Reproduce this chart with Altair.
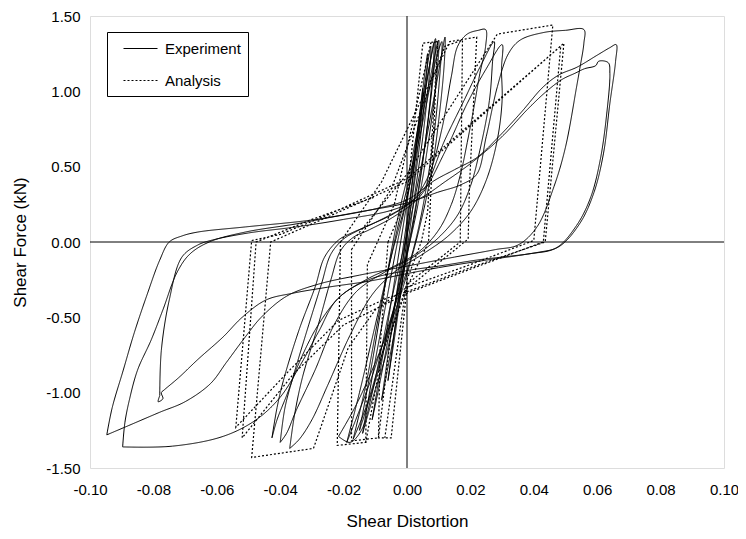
import altair as alt
import pandas as pd

# ---------------- data ----------------
x_ticks = [-0.10, -0.08, -0.06, -0.04, -0.02, 0.00, 0.02, 0.04, 0.06, 0.08, 0.10]
y_ticks = [-1.50, -1.00, -0.50, 0.00, 0.50, 1.00, 1.50]
series_names = ["Experiment", "Analysis"]

# Experiment (solid) loops: (shear distortion, shear force)
exp_loop_1 = [(-0.006,-0.92),(-0.004,-0.6),(-0.002,-0.25),(0.0,0.1),(0.002,0.45),(0.0035,0.75),(0.005,1.02),
              (0.0045,0.85),(0.003,0.55),(0.001,0.2),(-0.001,-0.15),(-0.003,-0.5),(-0.0055,-0.85),(-0.006,-0.92)]
exp_loop_2 = [(-0.011,-1.18),(-0.008,-0.8),(-0.005,-0.4),(-0.002,0.0),(0.001,0.4),(0.004,0.85),(0.0065,1.25),
              (0.006,1.05),(0.004,0.65),(0.001,0.2),(-0.002,-0.2),(-0.006,-0.65),(-0.009,-0.98),(-0.011,-1.18)]
exp_loop_3 = [(-0.014,-1.27),(-0.011,-0.9),(-0.007,-0.45),(-0.003,0.0),(0.001,0.4),(0.005,0.9),(0.0085,1.32),
              (0.008,1.1),(0.006,0.7),(0.003,0.25),(-0.001,-0.2),(-0.006,-0.7),(-0.011,-1.05),(-0.014,-1.27)]
exp_loop_4 = [(-0.017,-1.31),(-0.013,-0.95),(-0.009,-0.5),(-0.004,0.0),(0.001,0.45),(0.006,0.95),(0.010,1.34),
              (0.0095,1.12),(0.007,0.7),(0.003,0.2),(-0.002,-0.25),(-0.008,-0.75),(-0.013,-1.1),(-0.017,-1.31)]
exp_loop_5 = [(-0.0216,-1.29),(-0.018,-1.33),(-0.0144,-1.25),(-0.0113,-1.03),(-0.008,-0.7),(-0.004,-0.3),(0.0,0.05),
              (0.004,0.45),(0.008,0.9),(0.011,1.25),(0.012,1.36),(0.0118,1.2),(0.0105,0.9),(0.008,0.5),(0.004,0.1),
              (-0.002,-0.35),(-0.009,-0.75),(-0.016,-1.08),(-0.0216,-1.29)]
exp_loop_6 = [(-0.019,-1.33),(-0.015,-1.0),(-0.010,-0.55),(-0.005,-0.1),(0.0,0.3),(0.005,0.8),(0.009,1.2),(0.011,1.33),
              (0.0105,1.15),(0.009,0.8),(0.006,0.35),(0.002,-0.05),(-0.005,-0.5),(-0.012,-0.95),(-0.019,-1.33)]
exp_loop_7 = [(-0.0426,-1.30),(-0.041,-1.1),(-0.039,-0.92),(-0.034,-0.58),(-0.029,-0.3),(-0.026,-0.1),(-0.0216,0.013),
              (-0.0185,0.05),(-0.012,0.11),(-0.004,0.19),(0.002,0.28),(0.007,0.45),(0.011,0.75),(0.014,1.1),(0.016,1.3),
              (0.019,1.38),(0.0225,1.405),(0.0248,1.41),(0.0248,1.3),(0.023,1.12),(0.021,0.88),(0.019,0.66),
              (0.017,0.46),(0.014,0.25),(0.010,0.08),(0.004,-0.06),(-0.004,-0.16),(-0.012,-0.24),(-0.021,-0.36),
              (-0.028,-0.55),(-0.034,-0.8),(-0.038,-1.02),(-0.041,-1.18),(-0.0426,-1.30)]
exp_loop_8 = [(-0.040,-1.33),(-0.0385,-1.1),(-0.036,-0.9),(-0.031,-0.55),(-0.027,-0.28),(-0.024,-0.08),(-0.020,0.02),
              (-0.016,0.07),(-0.009,0.14),(-0.002,0.22),(0.005,0.34),(0.012,0.68),(0.018,0.94),(0.023,1.16),(0.0275,1.33),
              (0.027,1.2),(0.026,0.94),(0.023,0.61),(0.020,0.37),(0.016,0.18),(0.010,0.03),(0.002,-0.1),(-0.007,-0.2),
              (-0.016,-0.33),(-0.023,-0.55),(-0.029,-0.85),(-0.035,-1.12),(-0.038,-1.27),(-0.040,-1.33)]
exp_loop_9 = [(-0.037,-1.37),(-0.0355,-1.15),(-0.033,-0.9),(-0.028,-0.55),(-0.024,-0.25),(-0.021,-0.06),(-0.017,0.03),
              (-0.012,0.08),(-0.004,0.17),(0.004,0.3),(0.012,0.6),(0.019,0.92),(0.025,1.15),(0.030,1.31),(0.0298,1.15),
              (0.030,0.94),(0.0285,0.68),(0.025,0.41),(0.020,0.2),(0.013,0.04),(0.005,-0.08),(-0.004,-0.2),
              (-0.011,-0.35),(-0.018,-0.62),(-0.025,-0.95),(-0.030,-1.18),(-0.034,-1.31),(-0.037,-1.37)]
exp_loop_10 = [(-0.0947,-1.28),(-0.093,-1.1),(-0.0895,-0.85),(-0.086,-0.6),(-0.082,-0.35),(-0.078,-0.12),(-0.075,0.0),
               (-0.071,0.04),(-0.066,0.066),(-0.051,0.10),(-0.030,0.146),(-0.015,0.2),(0.0,0.26),(0.0097,0.33),
               (0.017,0.38),(0.022,0.45),(0.025,0.7),(0.0285,1.03),(0.032,1.25),(0.0357,1.34),(0.043,1.39),
               (0.050,1.405),(0.0558,1.41),(0.0558,1.32),(0.0545,1.15),(0.0535,1.03),(0.050,0.63),(0.0464,0.37),
               (0.041,0.10),(0.035,-0.02),(0.028,-0.05),(0.015,-0.1),(0.0,-0.16),(-0.015,-0.22),(-0.028,-0.28),
               (-0.038,-0.36),(-0.046,-0.5),(-0.051,-0.63),(-0.057,-0.8),(-0.062,-0.94),(-0.070,-1.06),
               (-0.078,-1.13),(-0.088,-1.22),(-0.0947,-1.28)]
exp_loop_11 = [(-0.0897,-1.36),(-0.089,-1.2),(-0.0876,-1.05),(-0.085,-0.85),(-0.0807,-0.65),(-0.077,-0.45),
               (-0.0725,-0.2),(-0.0685,-0.08),(-0.0624,0.0),(-0.051,0.066),(-0.035,0.12),(-0.025,0.16),(-0.010,0.22),
               (0.0,0.28),(0.0088,0.41),(0.015,0.48),(0.022,0.56),(0.029,0.7),(0.036,0.86),(0.043,1.03),(0.048,1.11),
               (0.0536,1.16),(0.060,1.24),(0.064,1.29),(0.066,1.31),(0.0658,1.2),(0.064,0.92),(0.062,0.59),
               (0.059,0.33),(0.0546,0.126),(0.048,-0.03),(0.041,-0.07),(0.030,-0.1),(0.022,-0.12),(0.010,-0.16),
               (0.0,-0.19),(-0.012,-0.25),(-0.022,-0.38),(-0.028,-0.6),(-0.034,-0.83),(-0.040,-1.03),(-0.0476,-1.18),
               (-0.058,-1.29),(-0.074,-1.355),(-0.0897,-1.36)]
exp_loop_12 = [(-0.078,-1.02),(-0.0775,-0.72),(-0.075,-0.385),(-0.071,-0.1),(-0.066,-0.02),(-0.0614,0.013),(-0.05,0.06),
               (-0.035,0.1),(-0.02,0.15),(-0.005,0.21),(0.005,0.3),(0.012,0.4),(0.02,0.52),(0.030,0.7),(0.038,0.88),
               (0.044,1.0),(0.049,1.08),(0.053,1.12),(0.056,1.15),(0.0595,1.17),(0.0605,1.2),(0.0635,1.19),
               (0.064,1.12),(0.063,0.85),(0.061,0.55),(0.058,0.3),(0.0535,0.11),(0.047,-0.04),(0.038,-0.08),
               (0.025,-0.12),(0.010,-0.17),(0.0,-0.21),(-0.012,-0.26),(-0.025,-0.3),(-0.036,-0.34),(-0.0445,-0.385),
               (-0.052,-0.5),(-0.058,-0.63),(-0.066,-0.78),(-0.072,-0.9),(-0.0765,-0.98),(-0.0775,-1.0),
               (-0.077,-1.04),(-0.0785,-1.06),(-0.078,-1.02)]
exp_loop_13 = [(-0.008,-1.05),(-0.005,-0.6),(-0.002,-0.15),(0.001,0.3),(0.004,0.8),(0.0075,1.3),(0.007,1.1),
               (0.005,0.7),(0.002,0.25),(-0.001,-0.2),(-0.004,-0.6),(-0.008,-1.05)]
exp_loop_14 = [(-0.015,-1.25),(-0.011,-0.8),(-0.007,-0.3),(-0.003,0.15),(0.002,0.6),(0.006,1.05),(0.009,1.35),
               (0.0085,1.15),(0.006,0.7),(0.002,0.15),(-0.003,-0.35),(-0.009,-0.85),(-0.015,-1.25)]
experiment_loops = [exp_loop_1, exp_loop_2, exp_loop_3, exp_loop_4, exp_loop_5, exp_loop_6, exp_loop_7,
                    exp_loop_8, exp_loop_9, exp_loop_10, exp_loop_11, exp_loop_12, exp_loop_13, exp_loop_14]

# Analysis (dotted) cycles
ana_cycle_1 = [(-0.006,0.0),(0.0,0.30),(0.005,1.32),(0.0097,1.33),(0.0068,0.0),(0.0,-0.30),(-0.005,-1.30),
               (-0.009,-1.30),(-0.0085,-0.7),(-0.006,0.0)]
ana_cycle_2 = [(-0.021,0.0),(-0.008,0.40),(0.0135,1.33),(0.022,1.36),(0.0197,0.37),(0.0193,0.02),(0.0,-0.31),
               (-0.008,-0.75),(-0.013,-1.33),(-0.022,-1.35),(-0.021,0.0)]
ana_cycle_3 = [(-0.0175,-0.05),(-0.005,0.35),(0.012,1.30),(0.0175,1.34),(0.0168,0.0),(0.0,-0.28),(-0.005,-0.6),
               (-0.009,-1.30),(-0.0175,-1.32),(-0.0175,-0.05)]
ana_cycle_4 = [(-0.0175,0.0),(0.0,0.45),(0.0285,1.38),(0.046,1.44),(0.040,0.01),(0.020,-0.15),(0.0,-0.30),
               (-0.010,-0.45),(-0.0185,-0.70),(-0.0295,-1.37),(-0.049,-1.43),(-0.043,0.0),(-0.030,0.12),
               (-0.015,0.26),(0.0,0.40),(0.0495,1.32),(0.0436,0.0),(0.020,-0.17),(0.0,-0.33),(-0.006,-0.37),
               (-0.0216,-0.52),(-0.037,-0.85),(-0.054,-1.23),(-0.049,0.01),(-0.040,0.05),(-0.025,0.18),
               (0.0,0.42),(0.0485,1.30),(0.0430,0.0),(0.020,-0.18),(0.0,-0.34),(-0.020,-0.55),(-0.036,-0.88),
               (-0.052,-1.30),(-0.0476,0.0),(-0.030,0.15),(-0.010,0.30)]
ana_cycle_5 = [(-0.013,-1.33),(-0.0125,-0.15),(-0.004,0.25),(0.0075,1.32),(0.0097,1.33),(0.0065,0.2),(0.0045,0.0),
               (0.0,-0.25),(-0.007,-1.30)]
analysis_cycles = [ana_cycle_1, ana_cycle_2, ana_cycle_3, ana_cycle_4, ana_cycle_5]

# ---------------- build table ----------------
rows = []
for name, loops in (("Experiment", experiment_loops), ("Analysis", analysis_cycles)):
    for li, loop in enumerate(loops):
        for k, (xv, yv) in enumerate(loop):
            rows.append({"x": xv, "y": yv, "series": name, "loop": f"{name}{li}", "k": k})
df = pd.DataFrame(rows)

font = "Liberation Sans"
xscale = alt.Scale(domain=[-0.1, 0.1], nice=False, zero=False)
yscale = alt.Scale(domain=[-1.5, 1.5], nice=False, zero=False)
dash = alt.StrokeDash(
    "series:N",
    scale=alt.Scale(domain=series_names, range=[[1, 0], [2, 2]]),
    legend=alt.Legend(
        title=None, orient="none", legendX=17, legendY=16,
        symbolType="M-2,0L2,0", symbolSize=289, symbolStrokeWidth=1.2,
        symbolStrokeColor="black", labelFont=font, labelFontSize=15,
        labelColor="black", fillColor="white", strokeColor="black",
        padding=7, rowPadding=14, labelOffset=15, symbolOffset=17,
        labelLimit=200,
    ),
)

label_expr = "(datum.value < 0 ? '-' : '') + format(abs(datum.value), '.2f')"
xaxis = alt.Axis(values=x_ticks, labelExpr=label_expr,
                 title="Shear Distortion", grid=False, domain=False, ticks=False,
                 labelFont=font, labelFontSize=15, labelColor="black", labelPadding=14,
                 titleFont=font, titleFontSize=17, titleFontWeight="normal", titleColor="black",
                 titlePadding=16, labelFlush=False)
yaxis = alt.Axis(values=y_ticks, labelExpr=label_expr,
                 title="Shear Force (kN)", grid=False, domain=False, ticks=False,
                 labelFont=font, labelFontSize=15, labelColor="black", labelPadding=10,
                 titleFont=font, titleFontSize=17, titleFontWeight="normal", titleColor="black",
                 titlePadding=16, labelFlush=False)

base = alt.Chart(df)
exp_layer = base.transform_filter(alt.datum.series == "Experiment").mark_line(
    interpolate="catmull-rom", color="black", strokeWidth=1, clip=True
).encode(
    x=alt.X("x:Q", scale=xscale, axis=xaxis),
    y=alt.Y("y:Q", scale=yscale, axis=yaxis),
    detail="loop:N", order="k:Q", strokeDash=dash,
)
ana_layer = base.transform_filter(alt.datum.series == "Analysis").mark_line(
    interpolate="linear", color="black", strokeWidth=1.2, clip=True
).encode(
    x=alt.X("x:Q", scale=xscale), y=alt.Y("y:Q", scale=yscale),
    detail="loop:N", order="k:Q", strokeDash=dash,
)
zero_df = pd.DataFrame({"v": [0.0]})
vzero = alt.Chart(zero_df).mark_rule(color="black", strokeWidth=1).encode(x=alt.X("v:Q", scale=xscale))
hzero = alt.Chart(zero_df).mark_rule(color="black", strokeWidth=1).encode(y=alt.Y("v:Q", scale=yscale))

chart = alt.layer(exp_layer, ana_layer, vzero, hzero).properties(
    width=634, height=452,
    autosize=alt.AutoSizeParams(type="none"),
    padding={"left": 82, "top": 8, "right": 14, "bottom": 63},
).configure_view(stroke="#808080", strokeWidth=1.5).configure(background="white")

chart.save("out.html", embed_options={"renderer": "svg", "actions": False})
